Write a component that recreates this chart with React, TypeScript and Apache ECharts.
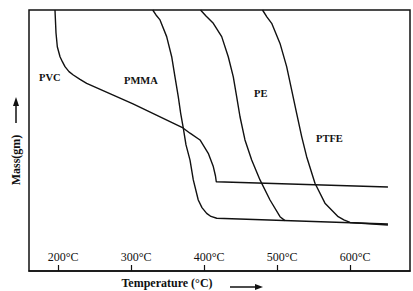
import React, { useEffect, useRef } from "react";
import * as echarts from "echarts";

const tickTemps = [200, 300, 400, 500, 600];

const pvcTemp = [195.6, 197.0, 198.8, 202.5, 205.9, 209.3, 214.8, 220.7, 229.9, 239.0, 302.5, 371.0, 380.6, 394.3, 405.6, 412.5, 415.5, 416.6, 651.8];
const pvcMass = [100, 91.2, 85.9, 82.1, 80.1, 78.3, 76.4, 75.1, 73.4, 71.9, 64.0, 54.8, 52.8, 50.2, 45.1, 40.0, 36.4, 34.2, 32.2];

const pmmaTemp = [329.5, 334.0, 339.5, 348.6, 355.5, 360.0, 364.5, 367.8, 371.4, 375.1, 380.6, 385.1, 391.9, 397.0, 403.4, 409.3, 417.2, 651.8];
const pmmaMass = [100, 98.1, 96.2, 89.8, 82.1, 74.4, 66.8, 60.4, 54.7, 48.3, 42.5, 34.9, 27.2, 24.3, 22.1, 20.9, 20.2, 18.0];

const peTemp = [395.0, 402.5, 412.5, 424.0, 433.0, 439.9, 444.5, 449.1, 455.9, 465.1, 476.5, 490.2, 503.9, 510.7];
const peMass = [100, 97.7, 94.9, 89.8, 82.1, 74.4, 66.8, 59.1, 50.2, 42.5, 34.9, 27.2, 20.8, 19.3];

const ptfeTemp = [479.9, 486.1, 492.5, 503.9, 513.0, 519.9, 526.7, 533.6, 540.4, 551.8, 565.5, 583.6, 591.4, 599.8, 651.8];
const ptfeMass = [100, 97.3, 94.9, 87.2, 78.3, 69.3, 60.4, 51.5, 43.8, 33.6, 26.0, 20.8, 19.6, 18.6, 17.6];

const seriesNames = ["PVC", "PMMA", "PE", "PTFE"];
const xAxisTitle = "Temperature (°C)";
const yAxisTitle = "Mass(gm)";

export default function App() {
  const ref = useRef<HTMLDivElement>(null);
  useEffect(() => {
    const chart = echarts.init(ref.current!, null, { renderer: "svg" });
    const font = "'Liberation Serif', 'Times New Roman', serif";
    const zip = (t: number[], m: number[]) => t.map((v, i) => [v, m[i]]);
    const line = (name: string, t: number[], m: number[]) => ({
      type: "line",
      name,
      data: zip(t, m),
      symbol: "none",
      showSymbol: false,
      smooth: false,
      silent: true,
      lineStyle: { color: "#111", width: 1.4, join: "round" },
    });
    const label = (text: string, x: number, y: number) => ({
      type: "text",
      x,
      y,
      style: {
        text,
        fill: "#111",
        fontFamily: font,
        fontSize: 10.5,
        fontWeight: "bold",
        align: "left",
        verticalAlign: "middle",
        textAlign: "left",
        textVerticalAlign: "middle",
      },
    });
    chart.setOption({
      animation: false,
      backgroundColor: "#fff",
      grid: {
        left: 29,
        right: 3,
        top: 10,
        bottom: 20,
        show: true,
        borderColor: "#111",
        borderWidth: 1.5,
        backgroundColor: "transparent",
      },
      xAxis: {
        type: "value",
        min: 160,
        max: 682,
        axisLine: { show: true, lineStyle: { color: "#111", width: 1.5 } },
        axisTick: {
          show: true,
          inside: true,
          length: 6,
          customValues: tickTemps,
          lineStyle: { color: "#111", width: 1.2 },
        },
        axisLabel: {
          inside: true,
          customValues: tickTemps,
          formatter: (v: number) => `${v}°C`,
          color: "#111",
          fontFamily: font,
          fontSize: 12,
          margin: 8,
          padding: [0, 0, 0, 10],
        },
        splitLine: { show: false },
      },
      yAxis: { type: "value", min: 0, max: 100, show: false },
      series: [
        line(seriesNames[0], pvcTemp, pvcMass),
        line(seriesNames[1], pmmaTemp, pmmaMass),
        line(seriesNames[2], peTemp, peMass),
        line(seriesNames[3], ptfeTemp, ptfeMass),
      ],
      graphic: [
        label(seriesNames[0], 39, 77),
        label(seriesNames[1], 124, 80),
        label(seriesNames[2], 254, 93),
        label(seriesNames[3], 316, 138),
        {
          type: "text",
          x: 167,
          y: 283,
          style: {
            text: xAxisTitle,
            fill: "#111",
            fontFamily: font,
            fontSize: 12,
            fontWeight: "bold",
            align: "center",
            verticalAlign: "middle",
            textAlign: "center",
            textVerticalAlign: "middle",
          },
        },
        {
          type: "line",
          shape: { x1: 230, y1: 287, x2: 257, y2: 287 },
          style: { stroke: "#111", lineWidth: 1.5 },
        },
        {
          type: "polygon",
          shape: { points: [[255, 284], [263, 287], [255, 290]] },
          style: { fill: "#111" },
        },
        {
          type: "text",
          x: 16,
          y: 160,
          rotation: Math.PI / 2,
          style: {
            text: yAxisTitle,
            fill: "#111",
            fontFamily: font,
            fontSize: 12,
            fontWeight: "bold",
            align: "center",
            verticalAlign: "middle",
            textAlign: "center",
            textVerticalAlign: "middle",
          },
        },
        {
          type: "line",
          shape: { x1: 16, y1: 123, x2: 16, y2: 104 },
          style: { stroke: "#111", lineWidth: 1.5 },
        },
        {
          type: "polygon",
          shape: { points: [[13, 106], [16, 97], [19, 106]] },
          style: { fill: "#111" },
        },
      ],
    });
    return () => chart.dispose();
  }, []);
  return (
    <div
      ref={ref}
      style={{ position: "fixed", left: 0, top: 0, width: 413, height: 291, background: "#fff" }}
    />
  );
}
